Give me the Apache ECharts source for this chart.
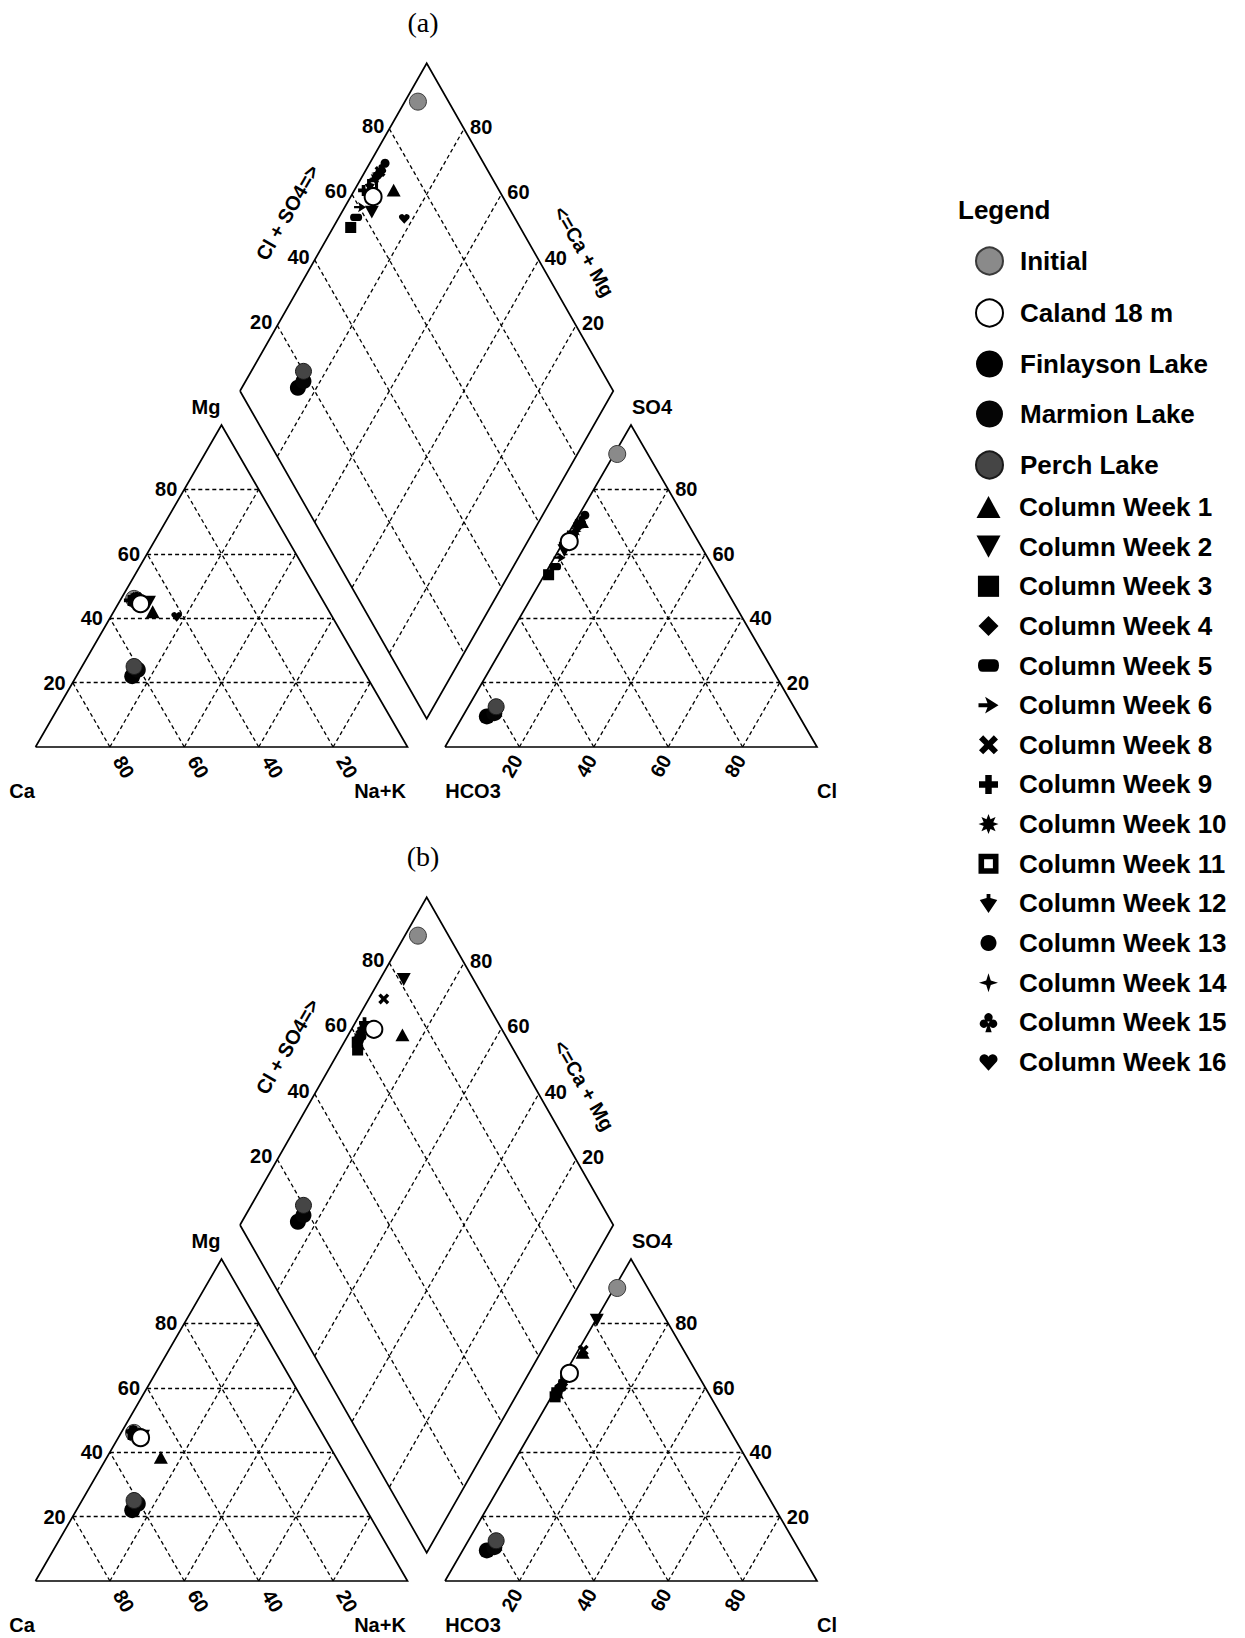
<!DOCTYPE html>
<html><head><meta charset="utf-8">
<script src="https://cdn.jsdelivr.net/npm/echarts@6/dist/echarts.min.js"></script>
<style>html,body{margin:0;padding:0;background:#fff}#chart{width:1245px;height:1638px}</style>
</head><body><div id="chart"></div>
<script>
// ================= DATA (meq %) =================
const sampleNames = ['Initial','Caland 18 m','Finlayson Lake','Marmion Lake','Perch Lake',
  'Column Week 1','Column Week 2','Column Week 3','Column Week 4','Column Week 5','Column Week 6',
  'Column Week 8','Column Week 9','Column Week 10','Column Week 11','Column Week 12','Column Week 13',
  'Column Week 14','Column Week 15','Column Week 16'];
// panel (a)  cations: Mg, Na+K (Ca = rest); anions: SO4, Cl (HCO3 = rest)
const mgA  = [46, 44.5, 22, 24, 25, 42, 45, 45, 46, 45.5, 46, 46.5, 45.5, 46.5, 46, 46, 46.5, 46, 46.5, 40.5];
const nakA = [3.5, 6, 15, 15.5, 14, 10.5, 8, 4.7, 4, 4.6, 4.1, 4, 2.5, 3.7, 4, 3.5, 4.1, 3.5, 4, 17.7];
const so4A = [91, 63.8, 9.5, 10.5, 12.5, 70, 61, 53.5, 68.5, 56, 58.8, 69.5, 63.2, 67, 65.5, 64.5, 72, 68.6, 70, 68.8];
const clA  = [0.8, 1.5, 6.5, 8, 7.5, 1.8, 1.6, 1.1, 1.5, 1.6, 1.4, 1.5, 0.5, 1.6, 1.5, 1.5, 1.6, 1.4, 1.5, 1.5];
// panel (b)
const mgB  = [46, 44.5, 22, 24, 25, 38.4, 45, 45.5, 46.5, 46, 46.5, 46, 46.5, 46, 45.5, 46.5, 47, 46, 46.5, 45.5];
const nakB = [3.5, 6, 15, 15.5, 14, 14.5, 6.4, 4.8, 3, 3.5, 3, 4, 2.5, 3, 3.5, 3, 2.8, 3, 3.5, 4];
const so4B = [91, 64.5, 9.5, 10.5, 12.5, 71, 81, 57.2, 61, 60, 62, 71.7, 63.5, 59.5, 58.5, 62, 63, 61, 59.5, 58.5];
const clB  = [0.8, 1.2, 6.5, 8, 7.5, 1.5, 0.3, 1, 1, 1, 1, 1.3, 0.7, 0.8, 0.8, 0.8, 0.7, 0.8, 0.8, 0.8];
const tickValues = [20, 40, 60, 80];
const panelTitles = ['(a)', '(b)'];

// ================= LAYOUT =================
const PANEL_DY = [0, 834];
const CAT = {C:[35.5,747], N:[407.5,747], M:[221.5,425]};
const AN  = {H:[445,747], X:[817,747], S:[631,425]};
const DIA = {L:[240,391], B:[426.7,718.7], T:[426.7,63.3], R:[613.3,391]};
const FONT = '"Liberation Sans", Arial, sans-serif';

function lerp(A,B,f){return [A[0]+(B[0]-A[0])*f, A[1]+(B[1]-A[1])*f];}
function sh(p,dy){return [p[0], p[1]+dy];}
function tern(P1,w1,P2,w2,P3,w3){
  const s=w1+w2+w3;
  return [(P1[0]*w1+P2[0]*w2+P3[0]*w3)/s,(P1[1]*w1+P2[1]*w2+P3[1]*w3)/s];
}
function diaPt(u,v){
  const L=DIA.L,B=DIA.B,T=DIA.T;
  return [L[0]+u*(B[0]-L[0])+v*(T[0]-L[0]), L[1]+u*(B[1]-L[1])+v*(T[1]-L[1])];
}
function piper(mg,nak,so4,cl,dy){
  const ca=100-mg-nak, hco3=100-so4-cl;
  const c=tern(CAT.C,ca,CAT.M,mg,CAT.N,nak);
  const a=tern(AN.H,hco3,AN.S,so4,AN.X,cl);
  const d=diaPt(nak/100,(so4+cl)/100);
  return [sh(c,dy),sh(d,dy),sh(a,dy)];
}

// ================= SYMBOLS =================
function star8(){
  let s='';
  for(let k=0;k<16;k++){
    const ang=k*Math.PI/8-Math.PI/2, r=(k%2===0)?50:26;
    s+=(k===0?'M':'L')+(50+r*Math.cos(ang)).toFixed(2)+','+(50+r*Math.sin(ang)).toFixed(2)+' ';
  }
  return s+'Z';
}
const SHAPES = {
  circ:'M50,0 A50,50 0 1,1 49.9,0 Z',
  tri:'M50,4 L100,96 L0,96 Z',
  triDown:'M0,4 L100,4 L50,96 Z',
  square:'M4,4 L96,4 L96,96 L4,96 Z',
  diamond:'M50,0 L100,50 L50,100 L0,50 Z',
  pill:'M22,20 L78,20 Q100,20 100,50 Q100,80 78,80 L22,80 Q0,80 0,50 Q0,20 22,20 Z',
  arrow:'M0,40 L45,40 L33,8 L100,50 L33,92 L45,60 L0,60 Z',
  cross:'M22,0 L50,28 L78,0 L100,22 L72,50 L100,78 L78,100 L50,72 L22,100 L0,78 L28,50 L0,22 Z',
  plus:'M33,0 L67,0 L67,33 L100,33 L100,67 L67,67 L67,100 L33,100 L33,67 L0,67 L0,33 L33,33 Z',
  star8:star8(),
  hollowSq:'M0,0 L100,0 L100,100 L0,100 Z M28,28 L28,72 L72,72 L72,28 Z',
  spade:'M40,0 L60,0 L60,22 L96,32 L50,100 L4,32 L40,22 Z',
  star4:'M50,0 L62,38 L100,50 L62,62 L50,100 L38,62 L0,50 L38,38 Z',
  club:'M50,4 A21,21 0 1,1 49.9,4 Z M27,36 A21,21 0 1,1 26.9,36 Z M73,36 A21,21 0 1,1 72.9,36 Z M50,50 L66,100 L34,100 Z',
  heart:'M50,96 L6,48 A25,25 0 0,1 50,22 A25,25 0 0,1 94,48 Z'
};
function symPath(k){return 'path://M0,0 M100,100 '+SHAPES[k];}
function iconPath(k,size){ // size = visible box inside a 27px legend cell
  const p=(100*27/size-100)/2;
  return 'path://M'+(-p).toFixed(2)+','+(-p).toFixed(2)+' M'+(100+p).toFixed(2)+','+(100+p).toFixed(2)+' '+SHAPES[k];
}
// per-sample style: [shape, plotSize, legendSize, fill, border, borderWidth]
const STY = {
  'Initial':['circle',17,27,'#8a8a8a','#3a3a3a',1],
  'Caland 18 m':['circle',17,27,'#ffffff','#000000',2],
  'Finlayson Lake':['circle',16,27,'#000000','#000000',0],
  'Marmion Lake':['circle',16,27,'#050505','#000000',0],
  'Perch Lake':['circle',16,27,'#454545','#1a1a1a',1],
  'Column Week 1':['tri',14,24],
  'Column Week 2':['triDown',14,24],
  'Column Week 3':['square',12,23],
  'Column Week 4':['diamond',12,20],
  'Column Week 5':['pill',12,21],
  'Column Week 6':['arrow',12,20],
  'Column Week 8':['cross',11,19],
  'Column Week 9':['plus',11,19],
  'Column Week 10':['star8',12,20],
  'Column Week 11':['hollowSq',11,20],
  'Column Week 12':['spade',11,19],
  'Column Week 13':['circ',9,16],
  'Column Week 14':['star4',12,19],
  'Column Week 15':['club',12,20],
  'Column Week 16':['heart',11,19]
};

// ================= GRID LINES & OUTLINES =================
const dashed=[], solid=[];
PANEL_DY.forEach(dy=>{
  const c=CAT, a=AN, d=DIA;
  solid.push({coords:[sh(c.C,dy),sh(c.N,dy),sh(c.M,dy),sh(c.C,dy)]});
  solid.push({coords:[sh(a.H,dy),sh(a.X,dy),sh(a.S,dy),sh(a.H,dy)]});
  solid.push({coords:[sh(d.L,dy),sh(d.T,dy),sh(d.R,dy),sh(d.B,dy),sh(d.L,dy)]});
  tickValues.forEach(t=>{
    const f=t/100;
    dashed.push({coords:[sh(lerp(c.C,c.M,f),dy),sh(lerp(c.N,c.M,f),dy)]});
    dashed.push({coords:[sh(lerp(c.C,c.N,f),dy),sh(lerp(c.M,c.N,f),dy)]});
    dashed.push({coords:[sh(lerp(c.N,c.C,f),dy),sh(lerp(c.M,c.C,f),dy)]});
    dashed.push({coords:[sh(lerp(a.H,a.S,f),dy),sh(lerp(a.X,a.S,f),dy)]});
    dashed.push({coords:[sh(lerp(a.H,a.X,f),dy),sh(lerp(a.S,a.X,f),dy)]});
    dashed.push({coords:[sh(lerp(a.X,a.H,f),dy),sh(lerp(a.S,a.H,f),dy)]});
    dashed.push({coords:[sh(lerp(d.L,d.T,f),dy),sh(lerp(d.B,d.R,f),dy)]});
    dashed.push({coords:[sh(lerp(d.L,d.B,f),dy),sh(lerp(d.T,d.R,f),dy)]});
  });
});

// ================= TEXT =================
const graphics=[];
function txt(s,x,y,opt){
  opt=opt||{};
  graphics.push({type:'text',x:x,y:y,rotation:opt.rot||0,silent:true,z:20,
    style:{text:s,fill:'#000',fontSize:opt.size||20,fontWeight:opt.weight||'bold',
      fontFamily:opt.family||FONT,align:opt.align||'center',verticalAlign:opt.va||'middle'}});
}
PANEL_DY.forEach((dy,pi)=>{
  txt(panelTitles[pi],423,22+dy,{size:28,weight:'normal',family:'"Liberation Serif","Times New Roman",serif'});
  tickValues.forEach(t=>{
    const f=t/100;
    let p=lerp(CAT.C,CAT.M,f); txt(String(t),p[0]-7,p[1]+dy,{align:'right'});
    p=lerp(CAT.C,CAT.N,f); txt(String(100-t),p[0]+14,p[1]+20+dy,{rot:-Math.PI/3});
    p=lerp(AN.H,AN.X,f); txt(String(t),p[0]-7.5,p[1]+19+dy,{rot:Math.PI/3});
    p=lerp(AN.X,AN.S,f); txt(String(t),p[0]+7,p[1]+dy,{align:'left'});
    p=lerp(DIA.L,DIA.T,f); txt(String(t),p[0]-5,p[1]-3+dy,{align:'right'});
    p=lerp(DIA.T,DIA.R,f); txt(String(100-t),p[0]+6,p[1]-2+dy,{align:'left'});
  });
  txt('Ca',22,791+dy); txt('Na+K',380,791+dy); txt('Mg',206,407+dy);
  txt('HCO3',473,791+dy); txt('Cl',827,791+dy); txt('SO4',652,407+dy);
  txt('Cl + SO4=>',287.5,212.5+dy,{rot:Math.PI/3});
  txt('<=Ca + Mg',584,251.5+dy,{rot:-Math.PI/3});
});
txt('Legend',958,210,{size:26,align:'left'});

// ================= SERIES =================
const series=[
  {type:'lines',name:'grid',coordinateSystem:'cartesian2d',polyline:false,silent:true,z:1,
    lineStyle:{color:'#000',width:1.3,type:[4,3],opacity:1},data:dashed},
  {type:'lines',name:'outline',coordinateSystem:'cartesian2d',polyline:true,silent:true,z:1,
    lineStyle:{color:'#000',width:1.7,type:'solid',opacity:1},data:solid}
];
const order=[0,2,3,4,5,6,7,8,9,10,11,12,13,14,15,16,17,18,19,1];
order.forEach(i=>{
  const n=sampleNames[i], s=STY[n];
  const pts=[...piper(mgA[i],nakA[i],so4A[i],clA[i],PANEL_DY[0]),...piper(mgB[i],nakB[i],so4B[i],clB[i],PANEL_DY[1])];
  series.push({type:'scatter',name:n,z:i===1?4:3,silent:true,
    symbol:s[0]==='circle'?'circle':symPath(s[0]),symbolSize:s[1],
    itemStyle:{color:s[3]||'#000',borderColor:s[4]||'#000',borderWidth:s[5]||0,opacity:1},
    data:pts});
});
function legendItem(n){
  const s=STY[n];
  return {name:n,icon:s[0]==='circle'?'circle':iconPath(s[0],s[2])};
}
const legTxt={fontSize:26,fontWeight:'bold',fontFamily:FONT,color:'#000',padding:[0,0,0,12]};
const option={
  animation:false,
  backgroundColor:'#fff',
  grid:{left:0,right:0,top:0,bottom:0},
  xAxis:{type:'value',min:0,max:1245,show:false},
  yAxis:{type:'value',min:0,max:1638,inverse:true,show:false},
  legend:[
    {orient:'vertical',left:975,top:246.5,padding:0,itemWidth:27,itemHeight:27,itemGap:23,
      selectedMode:false,textStyle:legTxt,data:sampleNames.slice(0,5).map(legendItem)},
    {orient:'vertical',left:975,top:493.5,padding:0,itemWidth:27,itemHeight:27,itemGap:12.64,
      selectedMode:false,textStyle:legTxt,data:sampleNames.slice(5).map(legendItem)}
  ],
  graphic:graphics,
  series:series
};
const chart=echarts.init(document.getElementById('chart'),null,{renderer:'svg',width:1245,height:1638});
chart.setOption(option);
</script></body></html>
